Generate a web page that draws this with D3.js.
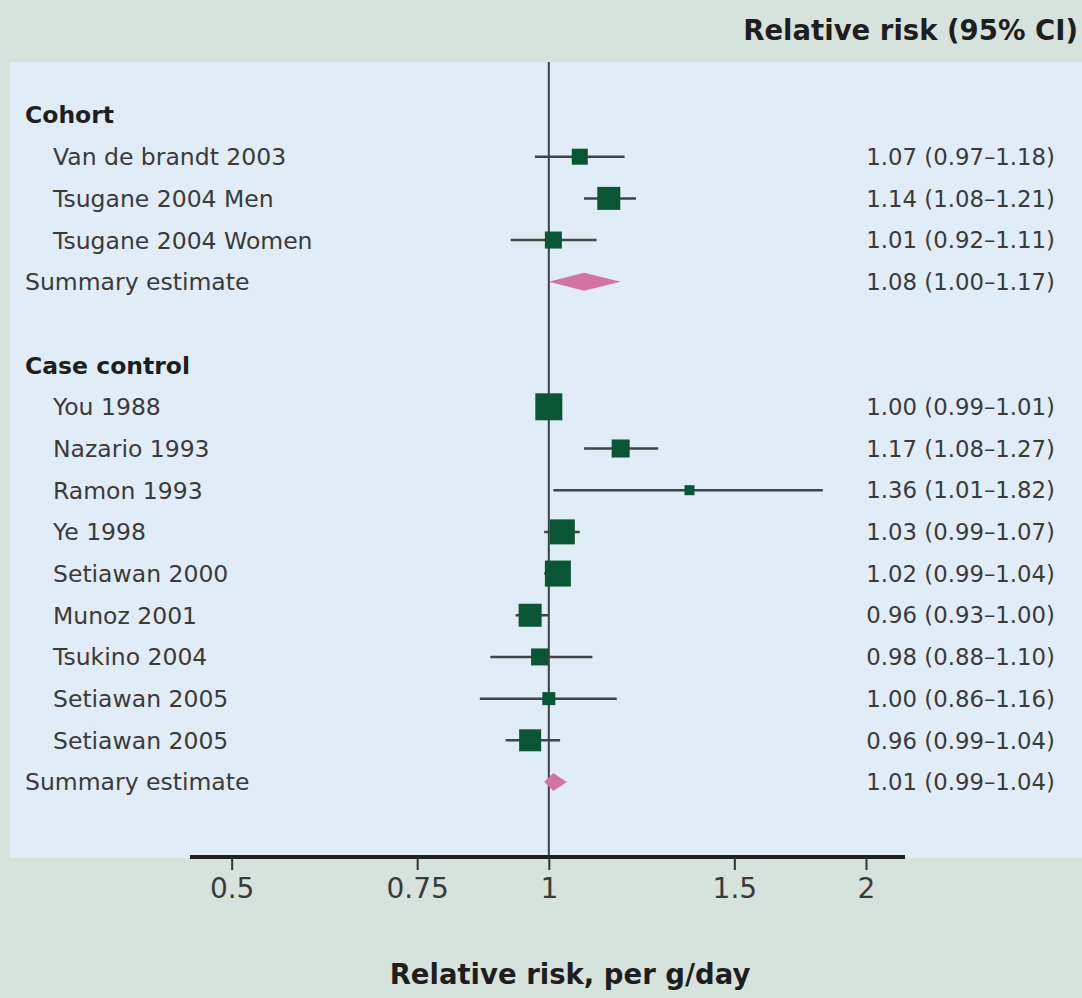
<!DOCTYPE html>
<html><head><meta charset="utf-8">
<script src="https://cdn.jsdelivr.net/npm/d3@7"></script>
<style>body{margin:0;background:#d6e3dc;} svg{display:block;}</style>
</head><body>
<script>
const rowLabels = ["Cohort","Van de brandt 2003","Tsugane 2004 Men","Tsugane 2004 Women","Summary estimate","",
  "Case control","You 1988","Nazario 1993","Ramon 1993","Ye 1998","Setiawan 2000","Munoz 2001","Tsukino 2004","Setiawan 2005","Setiawan 2005","Summary estimate"];
const rowTypes = ["header","study","study","study","summary","blank","header","study","study","study","study","study","study","study","study","study","summary"];
const estimates = [null,1.07,1.14,1.01,1.08,null,null,1.00,1.17,1.36,1.03,1.02,0.96,0.98,1.00,0.96,1.01];
const ciLow  = [null,0.97,1.08,0.92,1.00,null,null,0.99,1.08,1.01,0.99,0.99,0.93,0.88,0.86,0.91,0.99];
const ciHigh = [null,1.18,1.21,1.11,1.17,null,null,1.01,1.27,1.82,1.07,1.04,1.00,1.10,1.16,1.025,1.04];
const weights = [null,16,23,17,null,null,null,27,18,10,25,26,23,17,13,22,null];
const ciText = ["","1.07 (0.97–1.18)","1.14 (1.08–1.21)","1.01 (0.92–1.11)","1.08 (1.00–1.17)","","",
  "1.00 (0.99–1.01)","1.17 (1.08–1.27)","1.36 (1.01–1.82)","1.03 (0.99–1.07)","1.02 (0.99–1.04)","0.96 (0.93–1.00)",
  "0.98 (0.88–1.10)","1.00 (0.86–1.16)","0.96 (0.99–1.04)","1.01 (0.99–1.04)"];
const tickValues = [0.5,0.75,1,1.5,2];
const tickLabels = ["0.5","0.75","1","1.5","2"];

const W=1082,H=998;
const font="'DejaVu Sans', sans-serif";
const svg=d3.select("body").append("svg").attr("width",W).attr("height",H);
svg.append("rect").attr("width",W).attr("height",H).attr("fill","#d6e3dc");
svg.append("rect").attr("x",10).attr("y",62).attr("width",W-10).attr("height",796).attr("fill","#e1edf6");

const x=d3.scaleLog().domain([0.4565,2.178]).range([190,905]);
const y=d3.scalePoint().domain(d3.range(rowLabels.length)).range([115,782]);

svg.append("line").attr("x1",x(1)).attr("x2",x(1)).attr("y1",62).attr("y2",858)
  .attr("stroke","#3b3f40").attr("stroke-width",2);

const rows=svg.append("g").selectAll("g").data(rowLabels.map((l,i)=>({l,i,t:rowTypes[i]}))).join("g");

rows.append("text")
  .attr("x",d=>d.t==="study"?53:25).attr("y",d=>y(d.i)).attr("dy","0.36em")
  .attr("font-family",font).attr("font-size",23.5)
  .attr("font-weight",d=>d.t==="header"?700:400)
  .attr("fill",d=>d.t==="header"?"#1e1e1e":"#3a3a3a")
  .text(d=>d.l);

rows.append("text").attr("x",1055).attr("y",d=>y(d.i)).attr("dy","0.36em")
  .attr("text-anchor","end").attr("font-family",font).attr("font-size",22.8).attr("fill","#3a3a3a")
  .text(d=>ciText[d.i]);

const studies=rows.filter(d=>d.t==="study");
studies.append("line").attr("x1",d=>x(ciLow[d.i])).attr("x2",d=>x(ciHigh[d.i]))
  .attr("y1",d=>y(d.i)).attr("y2",d=>y(d.i)).attr("stroke","#3d4645").attr("stroke-width",2.5);
studies.append("rect")
  .attr("x",d=>x(estimates[d.i])-weights[d.i]/2).attr("y",d=>y(d.i)-weights[d.i]/2)
  .attr("width",d=>weights[d.i]).attr("height",d=>weights[d.i]).attr("fill","#0a5634");

const sums=rows.filter(d=>d.t==="summary");
sums.append("path").attr("fill","#d4739f").attr("d",d=>{
  const yy=y(d.i),h=9;
  return `M${x(ciLow[d.i])},${yy}L${x(estimates[d.i])},${yy-h}L${x(ciHigh[d.i])},${yy}L${x(estimates[d.i])},${yy+h}Z`;
});

const ax=svg.append("g").attr("transform","translate(0,857)");
ax.call(d3.axisBottom(x).tickValues(tickValues).tickFormat((d,i)=>tickLabels[i]).tickSize(13).tickPadding(18).tickSizeOuter(0));
ax.select(".domain").attr("stroke","#1f1f1f").attr("stroke-width",4).attr("d","M190,0H905");
ax.selectAll(".tick line").attr("stroke","#333").attr("stroke-width",2);
ax.selectAll(".tick text").attr("font-family",font).attr("font-size",28).attr("fill","#3a3a3a")
  .attr("y",41).attr("dy","0");

svg.append("text").attr("x",570).attr("y",984).attr("text-anchor","middle")
  .attr("font-family",font).attr("font-size",27.5).attr("font-weight",700).attr("fill","#1e1e1e")
  .text("Relative risk, per g/day");
svg.append("text").attr("x",1078).attr("y",40).attr("text-anchor","end")
  .attr("font-family",font).attr("font-size",27.5).attr("font-weight",700).attr("fill","#1e1e1e")
  .text("Relative risk (95% CI)");
</script>
</body></html>
